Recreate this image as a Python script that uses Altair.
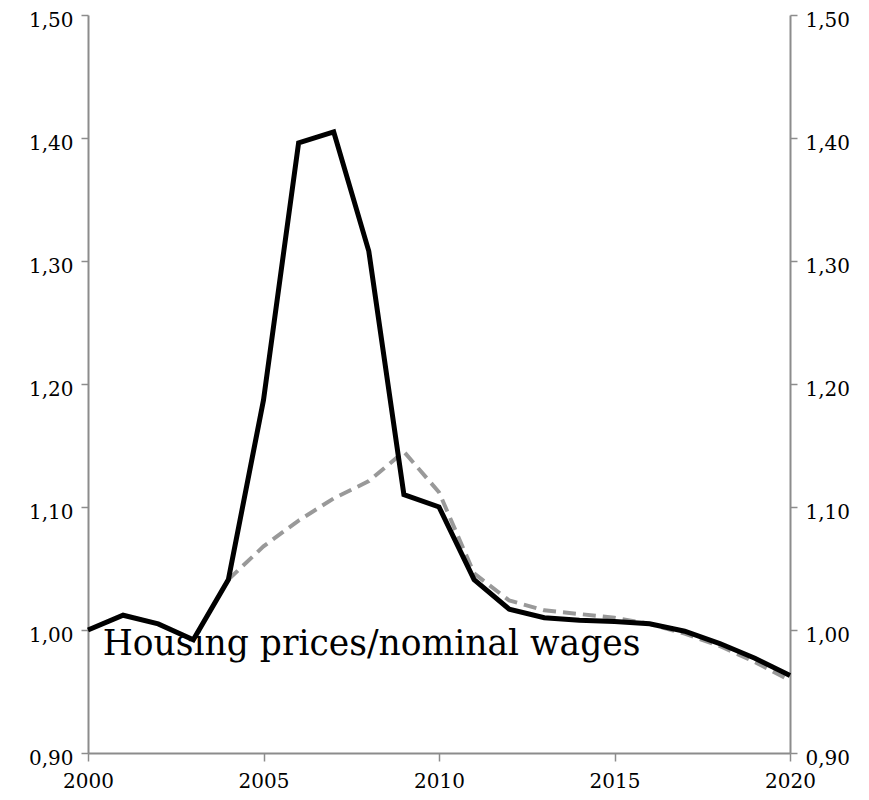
import altair as alt
import pandas as pd

years = list(range(2000, 2021))
housing_ratio = [1.000, 1.012, 1.005, 0.992, 1.041, 1.187, 1.396, 1.405, 1.308, 1.110,
                 1.100, 1.041, 1.017, 1.010, 1.008, 1.007, 1.005, 0.999, 0.989, 0.977, 0.963]
dashed_years = list(range(2004, 2021))
dashed_ratio = [1.041, 1.068, 1.089, 1.107, 1.121, 1.145, 1.112, 1.046, 1.024, 1.016,
                1.013, 1.010, 1.005, 0.997, 0.987, 0.974, 0.959]
label_text = "Housing prices/nominal wages"

df1 = pd.DataFrame({"year": years, "value": housing_ratio})
df2 = pd.DataFrame({"year": dashed_years, "value": dashed_ratio})

AXIS_COLOR = "#8c8c8c"
LABEL_FONT = "DejaVu Serif"
lab_expr = "replace(format(datum.value, '.2f'), '.', ',')"

xscale = alt.Scale(domain=[2000, 2020], nice=False, zero=False)
yscale = alt.Scale(domain=[0.9, 1.5], nice=False, zero=False)

def xaxis():
    return alt.Axis(values=[2000, 2005, 2010, 2015, 2020], format="d", grid=False,
                    domainColor=AXIS_COLOR, domainWidth=2, tickColor=AXIS_COLOR, tickWidth=1.5,
                    tickSize=8, labelFont=LABEL_FONT, labelFontSize=20, labelColor="black",
                    labelPadding=10, title=None, labelFlush=False)

def yaxis(orient):
    return alt.Axis(orient=orient, values=[0.9, 1.0, 1.1, 1.2, 1.3, 1.4, 1.5],
                    labelExpr=lab_expr, grid=False, domainColor=AXIS_COLOR, domainWidth=2,
                    tickColor=AXIS_COLOR, tickWidth=1.5, tickSize=7,
                    labelFont=LABEL_FONT, labelFontSize=20, labelColor="black",
                    labelPadding=8, labelOffset=5, title=None)

dashed = alt.Chart(df2).mark_line(color="#999999", strokeWidth=4, strokeDash=[13, 7]).encode(
    x=alt.X("year:Q", scale=xscale, axis=xaxis()),
    y=alt.Y("value:Q", scale=yscale, axis=yaxis("right")),
)

solid = alt.Chart(df1).mark_line(color="black", strokeWidth=5, strokeJoin="miter").encode(
    x=alt.X("year:Q", scale=xscale, axis=xaxis()),
    y=alt.Y("value:Q", scale=yscale, axis=yaxis("left")),
)

text = alt.Chart(pd.DataFrame({"t": [label_text]})).mark_text(
    align="left", baseline="alphabetic", font="DejaVu Serif", fontSize=34.5, color="black"
).encode(
    x=alt.X("tx:Q", scale=xscale, axis=xaxis()),
    y=alt.Y("ty:Q", scale=yscale, axis=None),
    text="t:N",
).transform_calculate(tx="2000.42", ty="0.980")

chart = alt.layer(dashed, solid, text).resolve_scale(y="independent").resolve_axis(
    y="independent"
).properties(
    width=702, height=738,
    autosize=alt.AutoSizeParams(type="none"),
    padding={"left": 80, "top": 7, "right": 62, "bottom": 40},
    background="white",
).configure_view(stroke=None)

chart.save("out.html", embed_options={"renderer": "svg", "actions": False})
